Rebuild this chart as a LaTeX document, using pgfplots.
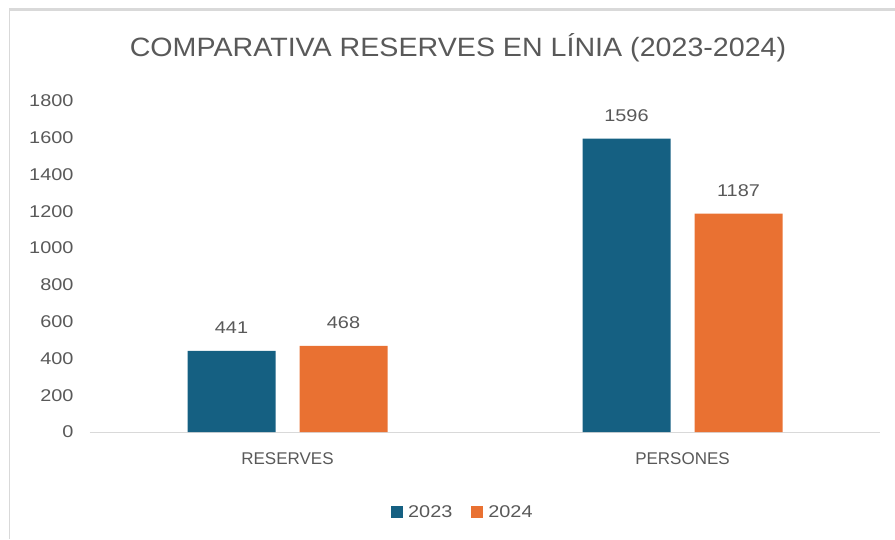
\documentclass[border=0pt]{standalone}
\usepackage{pgfplots}
\pgfplotsset{compat=1.18}
\usepackage{fontspec}
\setmainfont{Liberation Sans}
\newfontfamily\titlefont[FakeStretch=1.08]{Liberation Sans}
\newfontfamily\numfont[FakeStretch=1.17]{Liberation Sans}
\definecolor{cblue}{HTML}{156082}
\definecolor{corange}{HTML}{E97132}
\definecolor{txt}{HTML}{595959}
\definecolor{frame}{HTML}{D9D9D9}
\begin{document}
\begin{tikzpicture}
\path (0pt,0pt) rectangle (895pt,539pt);
\fill[frame] (9pt,528pt) rectangle (895pt,531pt);
\fill[frame] (9pt,0pt) rectangle (10pt,531pt);
\node[text=txt,font=\titlefont\fontsize{26.5}{30}\selectfont] at (458pt,491pt) {COMPARATIVA RESERVES EN LÍNIA (2023-2024)};
\begin{axis}[
  at={(90pt,107pt)}, anchor=south west,
  scale only axis, width=790pt, height=331pt,
  ybar=24pt, bar width=88pt,
  xmin=-0.5, xmax=1.5, ymin=0, ymax=1800,
  xtick={0,1}, xticklabels={RESERVES,PERSONES},
  ytick={0,200,...,1800},
  major tick length=0pt,
  axis x line*=bottom, axis y line*=left,
  x axis line style={draw=frame, line width=1pt},
  y axis line style={draw=none},
  xticklabel style={font=\fontsize{17}{20}\selectfont, text=txt, yshift=-17pt},
  yticklabel style={font=\numfont\fontsize{17}{20}\selectfont, text=txt, anchor=east, xshift=-13pt},
  /pgf/number format/assume math mode=true,
  /pgf/number format/1000 sep={},
  nodes near coords,
  every node near coord/.append style={font=\numfont\fontsize{17}{20}\selectfont, text=txt, anchor=center, yshift=23pt},
  legend style={at={(axis description cs:0.472,-0.2417)}, anchor=center, draw=none,
    font=\numfont\fontsize{17}{20}\selectfont, text=txt, legend columns=2,
    /tikz/every odd column/.append style={column sep=3pt},
    /tikz/every even column/.append style={column sep=17pt}},
  legend image code/.code={\fill[#1] (0pt,-6pt) rectangle (12pt,6pt);},
  clip=false,
]
\addplot[fill=cblue, draw=none] coordinates {(0,441) (1,1596)};
\addplot[fill=corange, draw=none] coordinates {(0,468) (1,1187)};
\legend{2023,2024}
\end{axis}
\end{tikzpicture}
\end{document}
